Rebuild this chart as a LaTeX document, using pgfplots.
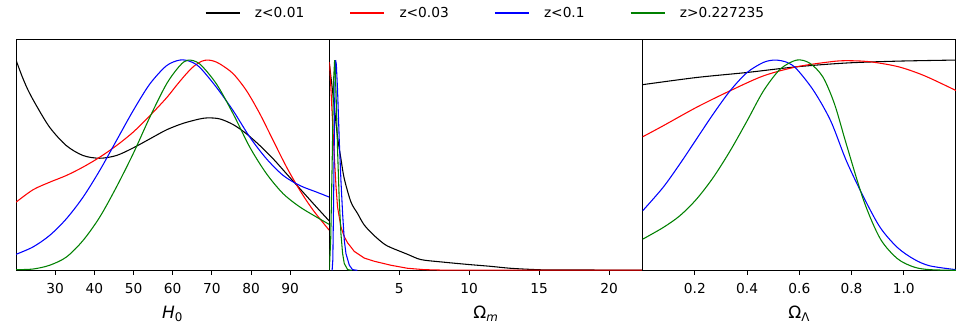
\documentclass[border=0pt]{standalone}
\usepackage{fontspec}
\setmainfont{DejaVu Sans}
\usepackage{pgfplots}
\pgfplotsset{compat=1.18}
\usetikzlibrary{calc}
\definecolor{mplgreen}{rgb}{0,0.5,0}

\pgfplotsset{
  panel/.style={
    scale only axis, width=234.75pt, height=173.25pt,
    ymin=0, ymax=1.1, ytick=\empty,
    xtick pos=bottom, tick align=outside,
    major tick length=3.5pt,
    tick style={black, line width=0.6pt},
    axis line style={line width=0.75pt},
    /pgf/number format/assume math mode=true,
    ticklabel style={font=\fontsize{10.3}{12}\selectfont, yshift=-2.5pt},
    xlabel style={at={(axis description cs:0.5,0)}, anchor=center, yshift=-32.5pt,
      font=\fontsize{12.7}{14}\selectfont},
    every axis plot/.append style={line width=0.8pt},
  },
}

\begin{document}
\begin{tikzpicture}
% ---- H0 ----
\begin{axis}[panel, name=a1, at={(0,0)}, anchor=south west,
  xmin=20, xmax=100, xtick={30,40,...,90},
  xlabel={\textit{H}\textsubscript{0}}]
\addplot[black, smooth] coordinates {
 (20,1.0) (21.5,0.925) (23,0.86) (25,0.79) (28.6,0.680) (32.86,0.593) (37.12,0.546)
 (41.38,0.533) (45.64,0.546) (49.9,0.582) (54.16,0.625) (58.42,0.668)
 (62.67,0.699) (66.93,0.720) (69.06,0.725) (72.04,0.72) (75.45,0.693)
 (78.86,0.649) (82.27,0.593) (85.67,0.530) (89.08,0.459) (92.49,0.388)
 (96.75,0.30) (100,0.234)};
\addplot[red, smooth] coordinates {
 (20,0.324) (24.34,0.383) (28.6,0.419) (32.86,0.451) (37.12,0.491)
 (41.38,0.538) (45.64,0.593) (49.9,0.657) (54.16,0.735) (58.42,0.82)
 (61,0.88) (63.5,0.935) (65.5,0.972) (67.5,0.995) (69,1.0) (70.5,0.995)
 (72.2,0.98) (75.45,0.935) (78.86,0.854) (82.27,0.744) (85.67,0.617)
 (89.08,0.491) (92.49,0.380) (95.9,0.285) (100,0.190)};
\addplot[blue, smooth] coordinates {
 (20,0.076) (24.34,0.111) (28.6,0.166) (32.86,0.245) (37.12,0.348)
 (41.38,0.475) (45.64,0.617) (49.9,0.759) (54.16,0.886) (58.42,0.973)
 (61.82,1.0) (64.38,0.994) (66.93,0.965) (71.19,0.870) (75.45,0.759)
 (79.71,0.633) (83.97,0.530) (88.23,0.451) (92.49,0.403) (96.75,0.372)
 (100,0.348)};
\addplot[mplgreen, smooth] coordinates {
 (20,0.003) (24.34,0.006) (28.6,0.024) (32.86,0.063) (37.12,0.142)
 (41.38,0.253) (45.64,0.396) (49.9,0.554) (54.16,0.728) (58.42,0.886)
 (61.82,0.973) (63.95,1.0) (66.93,0.981) (71.19,0.886) (75.45,0.744)
 (79.71,0.585) (83.97,0.459) (88.23,0.364) (92.49,0.301) (96.75,0.253)
 (100,0.218)};
\end{axis}
% ---- Omega_m ----
\begin{axis}[panel, name=a2, at={(a1.south east)}, anchor=south west,
  xmin=0, xmax=22.4, xtick={5,10,15,20},
  xlabel={Ω\textsubscript{\textit{m}}},
  legend columns=4,
  legend style={at={(axis description cs:0.5,1)}, anchor=center, yshift=19.5pt,
    draw=none, fill=none, font=\fontsize{10.3}{12}\selectfont,
    /tikz/every odd column/.append style={column sep=9pt},
    /tikz/every even column/.append style={column sep=32pt}},
  legend image code/.code={\draw[#1] (0pt,0pt) -- (25.5pt,0pt);}]
\addplot[black, smooth] coordinates {
 (0,0.985) (0.15,0.9) (0.36,0.775) (0.59,0.633) (0.83,0.53) (1.07,0.435)
 (1.55,0.324) (2.02,0.27) (2.5,0.215) (3.21,0.165) (3.92,0.125) (4.4,0.108)
 (5.59,0.076) (6.54,0.051) (7.96,0.040) (9.87,0.028) (11.5,0.019)
 (12.96,0.0095) (14.86,0.003) (16.3,0.0015) (22.4,0.001)};
\addplot[red] coordinates {
 (0,0.99) (0.05,0.95) (0.12,0.854) (0.24,0.696) (0.36,0.538) (0.48,0.396)
 (0.59,0.30) (0.83,0.206) (1.07,0.16) (1.31,0.13) (1.55,0.11) (1.78,0.09)
 (2.5,0.058) (3.21,0.043) (4.4,0.024) (5.59,0.0095) (6.78,0.003) (8,0.001)
 (22.4,0.0005)};
\addplot[blue] coordinates {
 (0.2,0) (0.25,0.05) (0.3,0.3) (0.35,0.6) (0.4,0.88) (0.45,1.0) (0.5,0.98)
 (0.59,0.854) (0.71,0.617) (0.83,0.427) (0.95,0.269) (1.07,0.142)
 (1.19,0.079) (1.43,0.024) (1.66,0.003) (2,0)};
\addplot[mplgreen] coordinates {
 (0,0) (0.1,0.15) (0.2,0.5) (0.3,0.9) (0.38,1.0) (0.475,0.854) (0.59,0.57)
 (0.71,0.33) (0.83,0.174) (0.95,0.079) (1.07,0.032) (1.31,0.003) (1.6,0)};
\legend{z<0.01, z<0.03, z<0.1, z>0.227235}
\end{axis}
% ---- Omega_Lambda ----
\begin{axis}[panel, name=a3, at={(a2.south east)}, anchor=south west,
  xmin=0, xmax=1.2, xtick={0.2,0.4,...,1.0},
  xticklabel style={/pgf/number format/.cd, fixed, fixed zerofill, precision=1},
  xlabel={Ω\textsubscript{Λ}}]
\addplot[black, smooth] coordinates {
 (0,0.883) (0.206,0.917) (0.40,0.941) (0.59,0.968) (0.78,0.986) (0.98,0.995)
 (1.2,1.0)};
\addplot[red, smooth] coordinates {
 (0,0.635) (0.078,0.687) (0.206,0.775) (0.335,0.854) (0.463,0.925)
 (0.59,0.968) (0.72,0.992) (0.78,0.997) (0.87,0.992) (0.98,0.968)
 (1.08,0.925) (1.2,0.855)};
\addplot[blue, smooth] coordinates {
 (0,0.283) (0.078,0.394) (0.142,0.505) (0.206,0.624) (0.27,0.743)
 (0.335,0.854) (0.40,0.941) (0.463,0.989) (0.508,1.0) (0.553,0.989)
 (0.59,0.957) (0.655,0.854) (0.72,0.711) (0.78,0.521) (0.847,0.346)
 (0.91,0.203) (0.976,0.108) (1.04,0.052) (1.10,0.021) (1.2,0.003)};
\addplot[mplgreen, smooth] coordinates {
 (0,0.148) (0.078,0.203) (0.142,0.259) (0.206,0.338) (0.27,0.441)
 (0.335,0.568) (0.40,0.711) (0.463,0.854) (0.527,0.957) (0.59,1.0)
 (0.64,0.985) (0.69,0.92) (0.735,0.79) (0.78,0.6) (0.847,0.33)
 (0.91,0.150) (0.976,0.055) (1.04,0.015) (1.10,0.003) (1.2,0)};
\end{axis}
\pgfresetboundingbox
\useasboundingbox ($(a1.south west)+(-12pt,-44.25pt)$) rectangle ($(a3.north east)+(11.25pt,29.25pt)$);
\end{tikzpicture}
\end{document}
